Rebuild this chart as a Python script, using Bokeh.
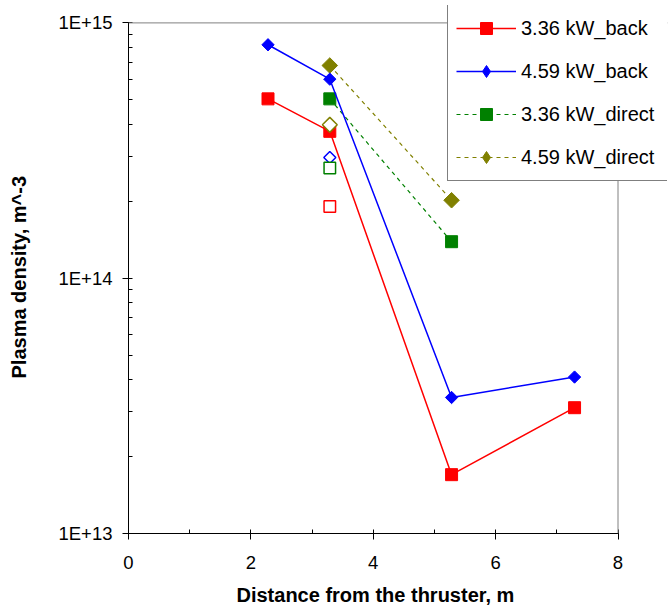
import math
from bokeh.plotting import figure
from bokeh.models import (Range1d, FixedTicker, CustomJSTickFormatter,
                          Legend, LegendItem, Span, Title, LinearAxis, LogAxis)
from bokeh.embed import file_html
from bokeh.resources import INLINE

# ---- data ----
distance_back = [2.28, 3.29, 5.28, 7.29]
density_336_back = [5.04e14, 3.76e14, 1.70e13, 3.11e13]
density_459_back = [8.21e14, 6.02e14, 3.41e13, 4.10e13]

distance_direct = [3.29, 5.28]
density_336_direct = [5.04e14, 1.39e14]
density_459_direct = [6.81e14, 2.02e14]

# open (hollow) markers at 3.3 m
distance_open = [3.29]
open_336_back = [1.91e14]
open_459_back = [2.97e14]
open_336_direct = [2.70e14]
open_459_direct = [3.99e14]

x_ticks = [0, 2, 4, 6, 8]
x_minor = [1, 3, 5, 7]
y_ticks = [1e13, 1e14, 1e15]
y_minor = [m * 10.0 ** e for e in (13, 14) for m in range(2, 10)]

labels = ["3.36 kW_back", "4.59 kW_back", "3.36 kW_direct", "4.59 kW_direct"]
x_title = "Distance from the thruster, m"
y_title = "Plasma density, m^-3"

RED, BLUE, GREEN, OLIVE = "#FF0000", "#0000FF", "#008000", "#808000"
GREY = "#808080"
FONT = "Liberation Sans"
DIAMOND = math.pi / 4

# ---- layout (pixels) ----
W, H = 669, 610
LEFT, RIGHT_BORDER, TOP, BOTTOM_BORDER = 128, 2, 5, 77
AXIS_X8_PX = 617.5          # where x = 8 sits
Y15_PX = 22.4               # where 1E+15 sits
frame_w = W - LEFT - RIGHT_BORDER
frame_h = H - TOP - BOTTOM_BORDER
x_end = 8 * frame_w / (AXIS_X8_PX - LEFT)
decade_px = (H - BOTTOM_BORDER - Y15_PX) / 2
y_end = 1e15 * 10 ** ((Y15_PX - TOP) / decade_px)

p = figure(width=W, height=H, x_range=Range1d(0, x_end),
           y_range=Range1d(1e13, y_end), y_axis_type="log",
           output_backend="svg", toolbar_location=None,
           min_border_left=LEFT, min_border_right=RIGHT_BORDER,
           min_border_top=TOP, min_border_bottom=BOTTOM_BORDER)

p.outline_line_color = None
p.xgrid.visible = False
p.ygrid.visible = False
p.background_fill_color = "white"
p.border_fill_color = "white"

# plot-area border (grey top and right edges)
p.add_layout(Span(location=1e15, dimension="width", line_color=GREY, line_width=1))
p.add_layout(Span(location=8, dimension="height", line_color=GREY, line_width=1))

# axes
xa = p.xaxis[0]
xa.ticker = FixedTicker(ticks=x_ticks, minor_ticks=x_minor)
xa.bounds = (0, 8)
ya = p.yaxis[0]
ya.ticker = FixedTicker(ticks=y_ticks, minor_ticks=y_minor)
ya.formatter = CustomJSTickFormatter(code="return '1E+' + Math.round(Math.log10(tick));")
ya.bounds = (1e13, 1e15)

for ax in (xa, ya):
    ax.axis_line_color = "black"
    ax.axis_line_width = 1
    ax.major_tick_line_color = "black"
    ax.minor_tick_line_color = "black"
    ax.major_tick_in = 4
    ax.major_tick_out = 6
    ax.minor_tick_in = 4
    ax.minor_tick_out = 0
    ax.major_label_text_font = FONT
    ax.major_label_text_font_size = "18.5px"
    ax.major_label_text_color = "black"

xa.major_label_standoff = 16
ya.major_label_standoff = 10


def spacer_axis(cls, tick, px):
    # a blank axis (white tick on white, no label) that only leaves room
    # between the tick labels and the axis title
    return cls(ticker=FixedTicker(ticks=[tick]), axis_line_color=None,
               major_tick_out=px, major_tick_in=0, minor_tick_out=0,
               minor_tick_in=0, major_tick_line_color="white",
               minor_tick_line_color=None, major_label_standoff=0,
               formatter=CustomJSTickFormatter(code="return '';"))


p.add_layout(spacer_axis(LinearAxis, 0, 12), "below")
p.add_layout(Title(text=x_title, align="left", offset=236 - LEFT,
                   vertical_align="top", standoff=0, text_font=FONT,
                   text_font_size="20px", text_font_style="bold",
                   text_color="black"), "below")
p.add_layout(spacer_axis(LogAxis, 1e13, 26), "left")
p.add_layout(Title(text=y_title, align="left", offset=155,
                   vertical_align="bottom", standoff=0, text_font=FONT,
                   text_font_size="20px", text_font_style="bold",
                   text_color="black"), "left")

# direct series (dashed)
l_g = p.line(distance_direct, density_336_direct, line_color=GREEN,
             line_width=1.2, line_dash="4 4")
s_g = p.scatter(distance_direct, density_336_direct, marker="square", size=12,
                fill_color=GREEN, line_color=GREEN, line_width=1)
l_o = p.line(distance_direct, density_459_direct, line_color=OLIVE,
             line_width=1.2, line_dash="4 4")
s_o = p.scatter(distance_direct, density_459_direct, marker="square", size=11,
                angle=DIAMOND, fill_color=OLIVE, line_color=OLIVE, line_width=1)

# back series (solid)
l_r = p.line(distance_back, density_336_back, line_color=RED, line_width=1.5)
s_r = p.scatter(distance_back, density_336_back, marker="square", size=12,
                fill_color=RED, line_color=RED, line_width=1)
l_b = p.line(distance_back, density_459_back, line_color=BLUE, line_width=1.5)
s_b = p.scatter(distance_back, density_459_back, marker="square", size=8.7,
                angle=DIAMOND, fill_color=BLUE, line_color=BLUE, line_width=1)

# hollow markers
p.scatter(distance_open, open_336_back, marker="square", size=11.5,
          fill_color="white", line_color=RED, line_width=1.5)
p.scatter(distance_open, open_459_back, marker="square", size=8.5, angle=DIAMOND,
          fill_color="white", line_color=BLUE, line_width=1.5)
p.scatter(distance_open, open_336_direct, marker="square", size=11.5,
          fill_color="white", line_color=GREEN, line_width=1.5)
p.scatter(distance_open, open_459_direct, marker="square", size=10.5, angle=DIAMOND,
          fill_color="white", line_color=OLIVE, line_width=1.5)

# legend-only diamond glyphs (legend draws markers unrotated)
nan = float("nan")
d_b = p.scatter([nan], [nan], marker="diamond", fill_color=BLUE, line_color=BLUE)
d_o = p.scatter([nan], [nan], marker="diamond", fill_color=OLIVE, line_color=OLIVE)

LEG_LEFT, LEG_BOTTOM = 447, 181
legend = Legend(items=[
    LegendItem(label=labels[0], renderers=[l_r, s_r]),
    LegendItem(label=labels[1], renderers=[l_b, d_b]),
    LegendItem(label=labels[2], renderers=[l_g, s_g]),
    LegendItem(label=labels[3], renderers=[l_o, d_o]),
], location=(LEG_LEFT - LEFT, H - BOTTOM_BORDER - LEG_BOTTOM),
   padding=8, spacing=13, glyph_width=60, glyph_height=30,
   label_standoff=5, label_width=139, label_text_font=FONT,
   label_text_font_size="20px", label_text_color="black",
   border_line_color="black", border_line_width=1,
   background_fill_color="white", background_fill_alpha=1.0, margin=0)
p.add_layout(legend)

open("out.html", "w").write(file_html(p, INLINE))
